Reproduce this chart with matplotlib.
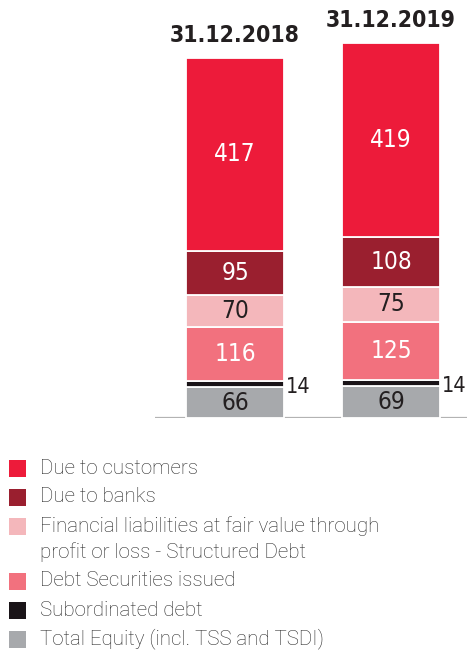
import matplotlib
matplotlib.use("Agg")
import matplotlib.pyplot as plt
from matplotlib.patches import Rectangle
import numpy as np

# ------------------------------------------------------------------
# Data (EUR bn), stacked bottom -> top
# ------------------------------------------------------------------
periods = ["31.12.2018", "31.12.2019"]
series_names = [
    "Total Equity (incl. TSS and TSDI)",
    "Subordinated debt",
    "Debt Securities issued",
    "Financial liabilities at fair value through\nprofit or loss - Structured Debt",
    "Due to banks",
    "Due to customers",
]
equity = [66, 69]
subordinated = [14, 14]
debt_securities = [116, 125]
structured_debt = [70, 75]
due_to_banks = [95, 108]
due_to_customers = [417, 419]

colors = ["#a7a9ac", "#1a1418", "#f2717e", "#f4b7bb", "#9a1f2f", "#ed1b3a"]
label_colors = ["#231f20", None, "white", "#231f20", "white", "white"]

NUM_FONT = dict(family="DejaVu Sans", fontstretch="condensed")
LEG_FONT = dict(family=["Roboto", "DejaVu Sans"], fontweight="light")

fig = plt.figure(figsize=(4.67, 6.54), dpi=100)
W, H = 467, 654
# axes: left edge at x=155px, bottom at y=418px, top at figure top
ax = fig.add_axes([155 / W, (H - 418) / H, (W - 155) / W, 418 / H])
ax.set_xlim(-0.513, 1.487)
ax.set_ylim(0, 903)
ax.axis("off")

ax.axhline(0, color="#b3b3b3", linewidth=1.6, zorder=0)

x = np.arange(len(periods))
stack = [equity, subordinated, debt_securities, structured_debt, due_to_banks, due_to_customers]
bottom = np.zeros(len(periods))
for vals, col, lc in zip(stack, colors, label_colors):
    vals = np.array(vals, dtype=float)
    ax.bar(x, vals, width=0.63, bottom=bottom, color=col,
           edgecolor="white", linewidth=1.3, zorder=2)
    for i, v in enumerate(vals):
        if lc is None:
            # thin segment: label to the right of the bar
            ax.annotate(f"{v:.0f}", (x[i] + 0.315, bottom[i] + v / 2),
                        xytext=(1.5, -2), textcoords="offset points",
                        ha="left", va="center", fontsize=15.5,
                        color="#231f20", **NUM_FONT)
        else:
            ax.text(x[i], bottom[i] + v / 2, f"{v:.0f}", ha="center", va="center",
                    fontsize=17.5, color=lc, **NUM_FONT)
    bottom += vals

for i, p in enumerate(periods):
    ax.annotate(p, (x[i], bottom[i]), xytext=(0, 8), textcoords="offset points",
                ha="center", va="bottom", fontsize=16.5, fontweight="bold",
                color="#231f20", **NUM_FONT)

# ------------------------------------------------------------------
# Legend (top entry = top of stack)
# ------------------------------------------------------------------
y = 468
for name, col in zip(series_names[::-1], colors[::-1]):
    fig.patches.append(Rectangle((9 / W, (H - y - 8.5) / H), 17 / W, 17 / H,
                                 transform=fig.transFigure, facecolor=col,
                                 edgecolor="none"))
    for k, line in enumerate(name.split("\n")):
        fig.text(40 / W, (H - y - 26 * k) / H, line, ha="left", va="center",
                 fontsize=14.8, color="#2a2a2a", **LEG_FONT)
    y += 29 + 26 * name.count("\n")

fig.savefig("out.png", dpi=100)
